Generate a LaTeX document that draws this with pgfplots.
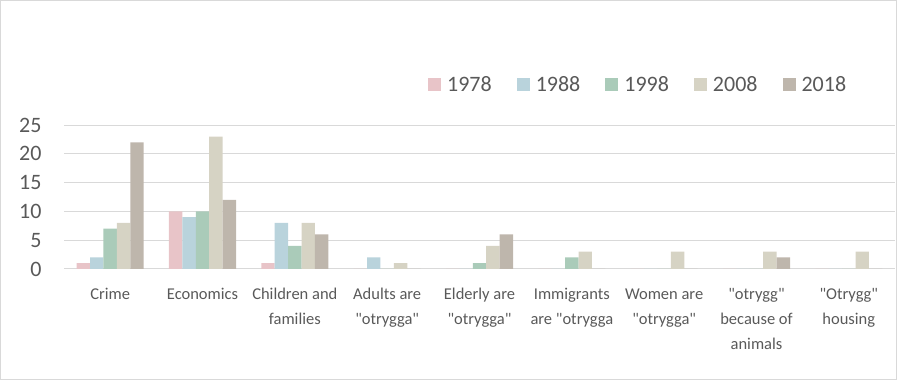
\documentclass[border=0pt]{standalone}
\usepackage{pgfplots}
\pgfplotsset{compat=1.18}
\usepackage{fontspec}
\setmainfont{Carlito}[Ligatures=TeXOff]
\definecolor{cA}{RGB}{232,196,200}
\definecolor{cB}{RGB}{185,211,220}
\definecolor{cC}{RGB}{170,203,185}
\definecolor{cD}{RGB}{214,211,196}
\definecolor{cE}{RGB}{190,182,172}
\definecolor{txt}{RGB}{89,89,89}
\definecolor{gridc}{RGB}{217,217,217}
\begin{document}
\begin{tikzpicture}
\useasboundingbox (0,0) rectangle (897pt,380pt);
\draw[gridc, line width=1pt] (0.5pt,0.5pt) rectangle (896.5pt,379.5pt);
\begin{axis}[
  at={(64pt,111pt)}, anchor=south west,
  scale only axis, width=831pt, height=144pt,
  ybar=0pt, bar width=13.4pt,
  xmin=-0.5, xmax=8.5, ymin=0, ymax=25,
  ytick={0,5,10,15,20,25},
  xtick={0,1,2,3,4,5,6,7,8},
  xticklabels={Crime, Economics, {Children and\\families}, {Adults are\\"otrygga"}, {Elderly are\\"otrygga"}, {Immigrants\\are "otrygga}, {Women are\\"otrygga"}, {"otrygg"\\because of\\animals}, {"Otrygg"\\housing}},
  ymajorgrids, grid style={gridc, line width=1pt},
  axis line style={draw=none},
  major tick length=0pt,
  /pgf/number format/assume math mode=true,
  yticklabel style={font=\fontsize{22}{26}\selectfont, text=txt, xshift=-19pt},
  xticklabel style={font=\fontsize{16.5}{25}\selectfont, text=txt, align=center, anchor=north, yshift=-16pt},
  legend columns=5,
  legend style={at={(0.438,1.278)}, anchor=west, draw=none, fill=none, inner sep=0pt,
    font=\fontsize{22}{26}\selectfont, text=txt,
    /tikz/every odd column/.append style={column sep=4pt},
    /tikz/every even column/.append style={column sep=23pt}},
  legend image code/.code={\fill[#1] (0pt,-6.5pt) rectangle (13pt,6.5pt);},
]
\addplot[fill=cA, draw=none] coordinates {(0,1) (1,10) (2,1) (3,0) (4,0) (5,0) (6,0) (7,0) (8,0)};
\addplot[fill=cB, draw=none] coordinates {(0,2) (1,9) (2,8) (3,2) (4,0) (5,0) (6,0) (7,0) (8,0)};
\addplot[fill=cC, draw=none] coordinates {(0,7) (1,10) (2,4) (3,0) (4,1) (5,2) (6,0) (7,0) (8,0)};
\addplot[fill=cD, draw=none] coordinates {(0,8) (1,23) (2,8) (3,1) (4,4) (5,3) (6,3) (7,3) (8,3)};
\addplot[fill=cE, draw=none] coordinates {(0,22) (1,12) (2,6) (3,0) (4,6) (5,0) (6,0) (7,2) (8,0)};
\legend{1978,1988,1998,2008,2018}
\end{axis}
\end{tikzpicture}
\end{document}
